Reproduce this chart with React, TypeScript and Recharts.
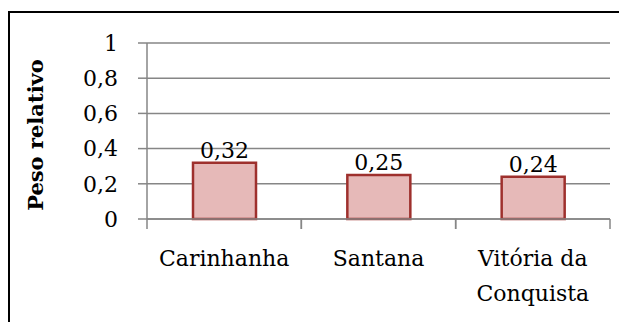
import { BarChart, Bar, XAxis, YAxis, CartesianGrid, LabelList } from 'recharts';

const categories = ['Carinhanha', 'Santana', 'Vitória da Conquista'];
const pesoRelativo = [0.32, 0.25, 0.24];
const yTicks = [0, 0.2, 0.4, 0.6, 0.8, 1];

const data = categories.map((name, i) => ({ name, value: pesoRelativo[i] }));

const FONT = '"DejaVu Serif", serif';
const GRID = '#868686';
const CHART_W = 619;
const CHART_H = 314;
const MARGIN = { top: 35, right: 17, bottom: 3, left: 0 };
const Y_AXIS_W = 139;
const PLOT_W = CHART_W - MARGIN.left - MARGIN.right - Y_AXIS_W;

const fmt = (v: number) => String(v).replace('.', ',');

// greedy word wrap, max chars per line
const wrap = (s: string, max = 12) => {
  const lines: string[] = [];
  let cur = '';
  s.split(' ').forEach((w) => {
    if (cur && (cur + ' ' + w).length > max) {
      lines.push(cur);
      cur = w;
    } else {
      cur = cur ? cur + ' ' + w : w;
    }
  });
  if (cur) lines.push(cur);
  return lines;
};

const CategoryTick = (props: any) => {
  const { x, y, payload } = props;
  const half = PLOT_W / categories.length / 2;
  const lines = wrap(String(payload.value));
  return (
    <g>
      <line x1={x - half} y1={y} x2={x - half} y2={y + 10} stroke={GRID} strokeWidth={1.5} />
      <line x1={x + half} y1={y} x2={x + half} y2={y + 10} stroke={GRID} strokeWidth={1.5} />
      <text textAnchor="middle" fontSize={22} fontFamily={FONT} fill="#000">
        {lines.map((l, i) => (
          <tspan key={i} x={x} y={y + 47 + i * 35}>
            {l}
          </tspan>
        ))}
      </text>
    </g>
  );
};

const YTitle = (props: any) => {
  const { viewBox } = props;
  const cx = 27;
  const cy = viewBox.y + viewBox.height / 2 + 4;
  return (
    <text
      x={cx}
      y={cy}
      transform={`rotate(-90, ${cx}, ${cy})`}
      textAnchor="middle"
      dominantBaseline="central"
      fontSize={21}
      fontWeight="bold"
      fontFamily={FONT}
      fill="#000"
    >
      Peso relativo
    </text>
  );
};

export default function App() {
  return (
    <div style={{ position: 'relative', width: CHART_W, height: CHART_H, overflow: 'hidden' }}>
      <div
        style={{
          position: 'absolute',
          left: 0,
          top: 3,
          width: 800,
          height: 600,
          border: '2px solid #000',
        }}
      />
      <BarChart width={CHART_W} height={CHART_H} data={data} margin={MARGIN} barSize={63}>
        <CartesianGrid vertical={false} stroke={GRID} strokeWidth={1.5} />
        <XAxis
          dataKey="name"
          height={100}
          tickSize={0}
          tickMargin={0}
          tickLine={false}
          axisLine={{ stroke: GRID, strokeWidth: 1.5 }}
          tick={<CategoryTick />}
          interval={0}
        />
        <YAxis
          width={Y_AXIS_W}
          domain={[0, 1]}
          ticks={yTicks}
          tickFormatter={fmt}
          tickSize={9}
          tickMargin={20}
          axisLine={{ stroke: GRID, strokeWidth: 1.5 }}
          tickLine={{ stroke: GRID, strokeWidth: 1.5 }}
          tick={{ fill: '#000', fontSize: 22, fontFamily: FONT }}
          label={<YTitle />}
        />
        <Bar
          dataKey="value"
          fill="#E6B9B8"
          stroke="#9E302D"
          strokeWidth={2.5}
          isAnimationActive={false}
        >
          <LabelList
            dataKey="value"
            position="top"
            formatter={(v: any) => fmt(Number(v))}
            fill="#000"
            fontSize={22}
            fontFamily={FONT}
          />
        </Bar>
      </BarChart>
    </div>
  );
}
